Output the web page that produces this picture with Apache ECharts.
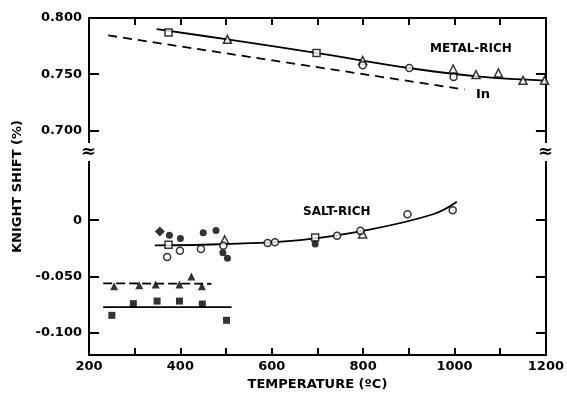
<!DOCTYPE html>
<html>
<head>
<meta charset="utf-8">
<script src="https://cdn.jsdelivr.net/npm/echarts@6/dist/echarts.min.js"></script>
<style>
  html, body { margin: 0; padding: 0; background: #fff; }
  #chart { width: 567px; height: 396px; }
</style>
</head>
<body>
<div id="chart"></div>
<script>
  // x: temperature (C), y: knight shift (%)
  var metalSquareOpen = [[374, 0.787], [698, 0.7688]];
  var metalTriOpen = [[503, 0.781], [799, 0.7622], [997, 0.7546], [1047, 0.7496], [1096, 0.7511], [1150, 0.7445], [1197, 0.7445]];
  var metalCircleOpen = [[799, 0.758], [901, 0.7555], [998, 0.7475]];
  var metalLine = [[348, 0.790], [503, 0.781], [700, 0.7688], [900, 0.7555], [1056, 0.7478], [1200, 0.7443]];
  var inLine = [[242, 0.7845], [1022, 0.7363]];

  var saltSquareOpen = [[374, -0.0218], [695, -0.0155]];
  var saltTriOpen = [[497, -0.0174], [799, -0.0122]];
  var saltCircleOpen = [[371, -0.0327], [399, -0.0271], [445, -0.0257], [494, -0.0228], [591, -0.0204], [607, -0.0197], [743, -0.0139], [794, -0.0095], [897, 0.0053], [996, 0.0088]];
  var saltCircleFilled = [[376, -0.0133], [400, -0.0162], [450, -0.0112], [478, -0.0091], [493, -0.0289], [503, -0.0339], [695, -0.0212]];
  var saltDiamondFilled = [[355, -0.010]];
  var saltLine = [[344, -0.0225], [500, -0.0212], [662, -0.0177], [808, -0.0088], [953, 0.0053], [1005, 0.0165]];

  var lowTriFilled = [[255, -0.0587], [310, -0.0578], [346, -0.0572], [398, -0.0572], [424, -0.0502], [447, -0.0587]];
  var lowTriLine = [[231, -0.0562], [468, -0.0566]];
  var lowSquareFilled = [[250, -0.0847], [297, -0.0743], [349, -0.072], [398, -0.072], [448, -0.0746], [501, -0.0891]];
  var lowSquareLine = [[231, -0.0773], [512, -0.0773]];

  var yTicks = [-0.1, -0.05, 0, 0.7, 0.75, 0.8];

  var FONT = 'DejaVu Sans';
  var dom = document.getElementById('chart');
  var myChart = echarts.init(dom);

  function yAxisCfg(pos, showLabel) {
      return {
          type: 'value',
          position: pos,
          min: -0.12,
          max: 0.8,
          breaks: [{start: 0.06, end: 0.68, gap: 0}],
          breakArea: {show: false},
          name: showLabel ? 'KNIGHT SHIFT (%)' : '',
          nameLocation: 'middle',
          nameRotate: 90,
          nameGap: 64,
          nameTextStyle: {fontFamily: FONT, fontWeight: 'bold', fontSize: 13, color: '#000'},
          axisLine: {show: true, onZero: false, lineStyle: {color: '#000', width: 2}},
          axisTick: {show: true, inside: true, length: 10, customValues: yTicks, lineStyle: {color: '#000', width: 2}},
          axisLabel: {
              show: showLabel,
              customValues: yTicks,
              margin: 7,
              fontFamily: FONT, fontWeight: 'bold', fontSize: 13, color: '#000',
              formatter: function (v) { return Math.abs(v) < 1e-9 ? '0' : v.toFixed(3); }
          },
          splitLine: {show: false}
      };
  }

  function xAxisCfg(pos, showLabel) {
      return {
          type: 'value',
          position: pos,
          min: 200,
          max: 1200,
          interval: 100,
          name: showLabel ? 'TEMPERATURE (ºC)' : '',
          nameLocation: 'middle',
          nameGap: 23,
          nameTextStyle: {fontFamily: FONT, fontWeight: 'bold', fontSize: 13, color: '#000'},
          axisLine: {show: true, onZero: false, lineStyle: {color: '#000', width: 2}},
          axisTick: {show: true, inside: true, length: 7, lineStyle: {color: '#000', width: 2}},
          axisLabel: {
              show: showLabel,
              margin: 5,
              fontFamily: FONT, fontWeight: 'bold', fontSize: 13, color: '#000',
              formatter: function (v) { return v % 200 === 0 ? String(v) : ''; }
          },
          splitLine: {show: false}
      };
  }

  function openPts(name, data, symbol, size) {
      return {
          name: name, type: 'scatter', data: data, symbol: symbol, symbolSize: size, z: 5,
          itemStyle: {color: '#fff', borderColor: '#000', borderWidth: 1.5}
      };
  }
  function filledPts(name, data, symbol, size) {
      return {
          name: name, type: 'scatter', data: data, symbol: symbol, symbolSize: size, z: 5,
          itemStyle: {color: '#000', borderColor: '#000', borderWidth: 0}
      };
  }
  function curve(name, data, type, smooth) {
      return {
          name: name, type: 'line', data: data, showSymbol: false, smooth: smooth, z: 3,
          lineStyle: {color: '#000', width: 1.8, type: type}
      };
  }

  option = {
      animation: false,
      backgroundColor: '#fff',
      grid: {left: 89, right: 21, top: 18, bottom: 39},
      xAxis: [xAxisCfg('bottom', true), xAxisCfg('top', false)],
      yAxis: [yAxisCfg('left', true), yAxisCfg('right', false)],
      series: [
          curve('metal-rich', metalLine, 'solid', 0.4),
          curve('In', inLine, [9, 6], false),
          curve('salt-rich', saltLine, 'solid', 0.4),
          curve('low tri', lowTriLine, [9, 4], false),
          curve('low square', lowSquareLine, 'solid', false),
          openPts('metal square', metalSquareOpen, 'rect', 7),
          openPts('metal tri', metalTriOpen, 'triangle', 8),
          openPts('metal circle', metalCircleOpen, 'circle', 7),
          openPts('salt square', saltSquareOpen, 'rect', 7),
          openPts('salt tri', saltTriOpen, 'triangle', 8),
          openPts('salt circle', saltCircleOpen, 'circle', 7),
          filledPts('salt filled circle', saltCircleFilled, 'circle', 7),
          filledPts('salt diamond', saltDiamondFilled, 'diamond', 10),
          filledPts('low tri', lowTriFilled, 'triangle', 8),
          filledPts('low square', lowSquareFilled, 'rect', 7)
      ],
      graphic: [
          {type: 'text', left: 430, top: 43, style: {text: 'METAL-RICH', fontFamily: FONT, fontWeight: 'bold', fontSize: 12, fill: '#000'}},
          {type: 'text', left: 476, top: 88, style: {text: 'In', fontFamily: FONT, fontWeight: 'bold', fontSize: 13, fill: '#000'}},
          {type: 'text', left: 303, top: 206, style: {text: 'SALT-RICH', fontFamily: FONT, fontWeight: 'bold', fontSize: 12, fill: '#000'}},
          {type: 'text', left: 81, top: 143, z: 10, style: {text: '≈', fontFamily: FONT, fontWeight: 'bold', fontSize: 18, fill: '#000', backgroundColor: '#fff'}},
          {type: 'text', left: 538, top: 143, z: 10, style: {text: '≈', fontFamily: FONT, fontWeight: 'bold', fontSize: 18, fill: '#000', backgroundColor: '#fff'}}
      ]
  };
  myChart.setOption(option, true);
</script>
</body>
</html>
